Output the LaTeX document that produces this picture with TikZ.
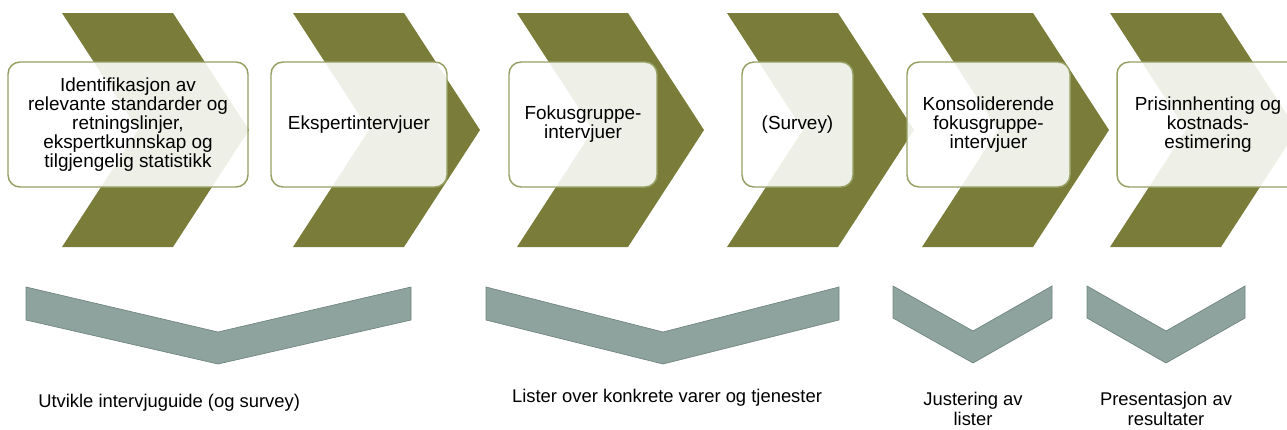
\documentclass[tikz,border=0pt]{standalone}
\usepackage{fontspec}
\setmainfont{Liberation Sans}
\usepackage{tikz}
\usetikzlibrary{positioning}
\definecolor{olivechev}{RGB}{122,125,57}
\definecolor{oliveline}{RGB}{150,160,100}
\definecolor{greychev}{RGB}{143,163,158}
\definecolor{greyline}{RGB}{112,132,127}

\begin{document}
\begin{tikzpicture}[
    x=0.75pt, y=-0.75pt,
    % Styles
    chev/.style={
        fill=olivechev
    },
    box/.style={
        draw=oliveline, line width=1.1pt, rounded corners=9pt,
        fill=white, fill opacity=0.88, text opacity=1,
        minimum height=93.75pt, align=center, inner sep=2pt,
        font=\fontsize{14.2}{14.2}\selectfont
    },
    downchev/.style={
        fill=greychev, draw=greyline, line width=0.5pt
    },
    result/.style={
        align=center, inner sep=0pt,
        font=\fontsize{13.8}{14.5}\selectfont
    }
]
\useasboundingbox (0,0) rectangle (1287,429);

% The big chevrons behind the steps
\fill[chev] (62,13) -- ++(111,0) -- ++(76,117) -- ++(-76,117) -- ++(-111,0) -- ++(76,-117) -- cycle;
\fill[chev] (293,13) -- ++(111,0) -- ++(76,117) -- ++(-76,117) -- ++(-111,0) -- ++(76,-117) -- cycle;
\fill[chev] (517,13) -- ++(111,0) -- ++(76,117) -- ++(-76,117) -- ++(-111,0) -- ++(76,-117) -- cycle;
\fill[chev] (727,13) -- ++(111,0) -- ++(76,117) -- ++(-76,117) -- ++(-111,0) -- ++(76,-117) -- cycle;
\fill[chev] (922,13) -- ++(111,0) -- ++(76,117) -- ++(-76,117) -- ++(-111,0) -- ++(76,-117) -- cycle;
\fill[chev] (1110,13) -- ++(111,0) -- ++(76,117) -- ++(-76,117) -- ++(-111,0) -- ++(76,-117) -- cycle;

% Step 1
\node[box, minimum width=180pt] (s1) at (128,124.5) {
    Identifikasjon av \\
    relevante standarder og \\
    retningslinjer, \\
    ekspertkunnskap og \\
    tilgjengelig statistikk
};

% Step 2
\node[box, minimum width=132pt] (s2) at (359,124.5) {Ekspertintervjuer};

% Step 3
\node[box, minimum width=111pt] (s3) at (583,124.5) {
    Fokusgruppe- \\
    intervjuer
};

% Step 4
\node[box, minimum width=83.25pt] (s4) at (797.5,124.5) {(Survey)};

% Step 5
\node[box, minimum width=122.25pt] (s5) at (988.5,124.5) {
    Konsoliderende \\
    fokusgruppe- \\
    intervjuer
};

% Step 6
\node[box, minimum width=136.5pt] (s6) at (1208,124.5) {
    Prisinnhenting og \\
    kostnads- \\
    estimering
};

% Results: guide
\draw[downchev] (26,287) -- (218,332) -- (411,287) -- (411,320) -- (218,364) -- (26,320) -- cycle;
\node[result, anchor=west] (r1) at (38,403) {Utvikle intervjuguide (og survey)};

% Results: lists
\draw[downchev] (486,287) -- (663,332) -- (839,287) -- (839,320) -- (663,364) -- (486,320) -- cycle;
\node[result] (r2) at (667,398) {Lister over konkrete varer og tjenester};

% Results: adjusted lists
\draw[downchev] (893,286) -- (973,331) -- (1052,286) -- (1052,318) -- (973,363) -- (893,318) -- cycle;
\node[result] (r3) at (973,409) {
    Justering av \\
    lister
};

% Results: presentation
\draw[downchev] (1087,286) -- (1166,331) -- (1245,286) -- (1245,318) -- (1166,363) -- (1087,318) -- cycle;
\node[result] (r4) at (1166,409) {
    Presentasjon av \\
    resultater
};

\end{tikzpicture}
\end{document}
